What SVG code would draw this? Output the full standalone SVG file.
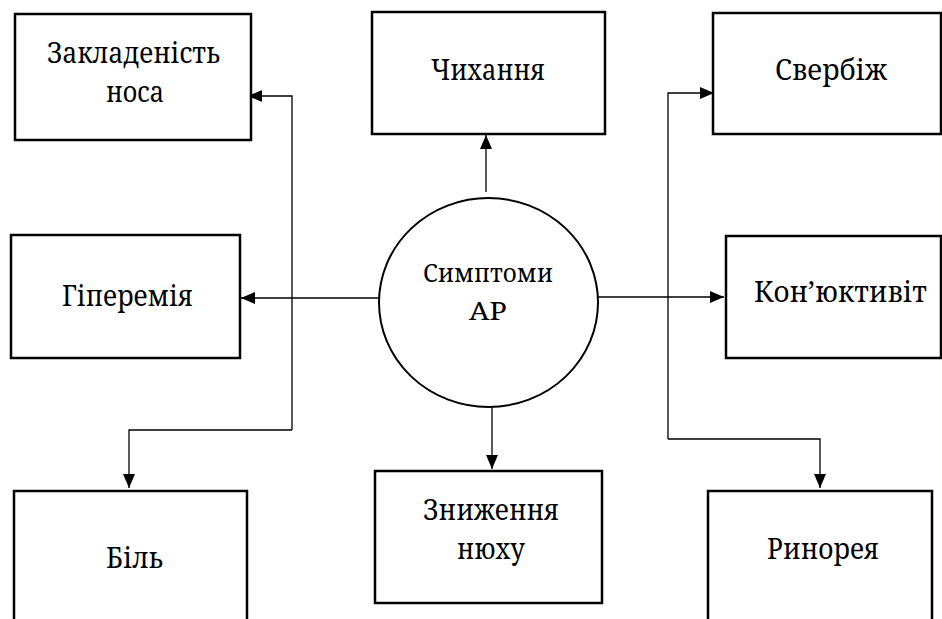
<svg xmlns="http://www.w3.org/2000/svg" width="942" height="619" viewBox="0 0 942 619">
<style>
.box{fill:#fff;stroke:#000;stroke-width:2.5}
.lbl{font-family:'Noto Serif','DejaVu Serif',serif;font-size:29px;fill:#000}
.clbl{font-family:'Noto Serif','DejaVu Serif',serif;font-size:25.5px;fill:#000}
.con{fill:none;stroke:#000;stroke-width:1.3}
</style>
<defs>
<marker id="ah" markerUnits="userSpaceOnUse" markerWidth="16" markerHeight="12" refX="14" refY="6" orient="auto">
<path d="M0,0 L14,6 L0,12 z" fill="#000"/>
</marker>
</defs>
<rect width="942" height="619" fill="#fff"/>
<g id="connectors">
<path class="con" d="M486,192 V135" marker-end="url(#ah)"/>
<path class="con" d="M379,298 H241" marker-end="url(#ah)"/>
<path class="con" d="M598,297 H724" marker-end="url(#ah)"/>
<path class="con" d="M492,407 V469" marker-end="url(#ah)"/>
<path class="con" d="M292,430 V96 H248" marker-end="url(#ah)"/>
<path class="con" d="M292,430 H129 V488" marker-end="url(#ah)"/>
<path class="con" d="M668,439 V93 H714" marker-end="url(#ah)"/>
<path class="con" d="M668,439 H820 V488" marker-end="url(#ah)"/>
</g>
<g id="center">
<ellipse cx="488.5" cy="302.5" rx="109.5" ry="104.5" fill="#fff" stroke="#000" stroke-width="2"/>
<text class="clbl" x="423" y="282" textLength="130" lengthAdjust="spacingAndGlyphs">Симптоми</text>
<text class="clbl" x="469" y="320" textLength="38" lengthAdjust="spacingAndGlyphs">АР</text>
</g>
<g id="zakladenist">
<rect class="box" x="15" y="14" width="236" height="126"/>
<text class="lbl" x="47" y="63" textLength="173" lengthAdjust="spacingAndGlyphs">Закладеність</text>
<text class="lbl" x="106" y="102" textLength="58" lengthAdjust="spacingAndGlyphs">носа</text>
</g>
<g id="chykhannia">
<rect class="box" x="372" y="12" width="233" height="122"/>
<text class="lbl" x="431" y="80" textLength="114" lengthAdjust="spacingAndGlyphs">Чихання</text>
</g>
<g id="sverbizh">
<rect class="box" x="713" y="13" width="228" height="121"/>
<text class="lbl" x="775" y="80" textLength="112" lengthAdjust="spacingAndGlyphs">Свербіж</text>
</g>
<g id="hiperemiia">
<rect class="box" x="11" y="235" width="229" height="123"/>
<text class="lbl" x="62" y="306" textLength="131" lengthAdjust="spacingAndGlyphs">Гіперемія</text>
</g>
<g id="koniunktyvit">
<rect class="box" x="726" y="236" width="215" height="122"/>
<text class="lbl" x="754" y="302" textLength="173" lengthAdjust="spacingAndGlyphs">Кон’юктивіт</text>
</g>
<g id="bil">
<rect class="box" x="14" y="491" width="233" height="140"/>
<text class="lbl" x="106" y="568" textLength="57" lengthAdjust="spacingAndGlyphs">Біль</text>
</g>
<g id="znyzhennia">
<rect class="box" x="375" y="471" width="227" height="132"/>
<text class="lbl" x="423" y="520" textLength="136" lengthAdjust="spacingAndGlyphs">Зниження</text>
<text class="lbl" x="457" y="559" textLength="68" lengthAdjust="spacingAndGlyphs">нюху</text>
</g>
<g id="rynoreia">
<rect class="box" x="708" y="491" width="224" height="140"/>
<text class="lbl" x="767" y="559" textLength="112" lengthAdjust="spacingAndGlyphs">Ринорея</text>
</g>
</svg>
